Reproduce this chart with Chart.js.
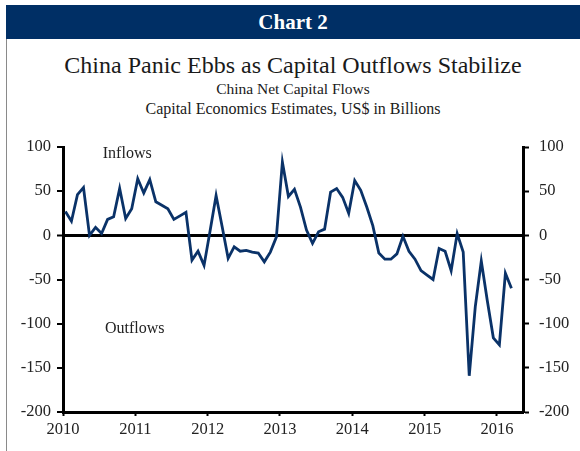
<!DOCTYPE html>
<html>
<head>
<meta charset="utf-8">
<script src="https://cdn.jsdelivr.net/npm/chart.js@4.4.0/dist/chart.umd.min.js"></script>
<style>
  body { margin: 0; background: #fff; font-family: "Liberation Serif", "DejaVu Serif", serif; }
  #wrap { position: relative; width: 580px; height: 451px; overflow: hidden; }
  #band { position: absolute; left: 6px; top: 5px; width: 574px; height: 34px; background: #002f65;
          color: #fff; font-weight: bold; font-size: 21px; text-align: center; line-height: 34px; }
  #edge { position: absolute; left: 6px; top: 39px; width: 1px; height: 412px; background: #8a8a8a; }
  .t { position: absolute; left: 6px; width: 574px; text-align: center; color: #1a1a1a; white-space: nowrap; line-height: 1; }
  #title { top: 53px; font-size: 24px; }
  #sub1 { top: 81px; font-size: 15.5px; }
  #sub2 { top: 101px; font-size: 16px; }
  canvas { position: absolute; left: 0; top: 0; }
</style>
</head>
<body>
<div id="wrap">
  <div id="band">Chart 2</div>
  <div id="edge"></div>
  <div class="t" id="title">China Panic Ebbs as Capital Outflows Stabilize</div>
  <div class="t" id="sub1">China Net Capital Flows</div>
  <div class="t" id="sub2">Capital Economics Estimates, US$ in Billions</div>
  <canvas id="flowsChart" width="580" height="451"></canvas>
</div>
<script>
// monthly net capital flows, Jan 2010 - Mar 2016 (US$ bn)
var startYear = 2010;
var flows = [
  27, 16, 46, 54, 0, 9, 2, 18, 21, 53, 19, 30,
  64, 48, 63, 38, 34, 30, 18, 22, 26, -28, -18, -34,
  5, 45, 10, -26, -13, -18, -17, -19, -20, -30, -19, -2,
  83, 44, 52, 32, 6, -9, 4, 7, 49, 53, 43, 25,
  62, 51, 32, 11, -20, -27, -27, -21, -1, -18, -27, -40,
  -45, -50, -15, -18, -40, 2, -19, -159, -81, -29, -74, -116,
  -124, -43, -60
];
var yearTicks = [2010, 2011, 2012, 2013, 2014, 2015, 2016];
var valueTicks = [100, 50, 0, -50, -100, -150, -200];
var notes = [
  { text: "Inflows", x: 2010.55, y: 87 },
  { text: "Outflows", x: 2010.58, y: -110 }
];

// months as mid-month positions
var points = [];
for (var i = 0; i < flows.length; i++) {
  points.push({ x: startYear + (i + 0.4) / 12, y: flows[i] });
}

var serif = "'Liberation Serif', 'DejaVu Serif', serif";
var tickFont = { family: serif, size: 16.5 };

var notesPlugin = {
  id: "notes",
  afterDatasetsDraw: function (chart) {
    var ctx = chart.ctx;
    ctx.save();
    ctx.fillStyle = "#222";
    ctx.font = "16px " + serif;
    ctx.textBaseline = "alphabetic";
    notes.forEach(function (n) {
      ctx.fillText(n.text, chart.scales.x.getPixelForValue(n.x), chart.scales.y.getPixelForValue(n.y));
    });
    ctx.restore();
  }
};

var ctx = document.getElementById("flowsChart").getContext("2d");
var chart = new Chart(ctx, {
  type: "line",
  data: {
    datasets: [{
      label: "Net capital flows",
      data: points,
      borderColor: "#0a3268",
      borderWidth: 2.8,
      pointRadius: 0,
      tension: 0,
      fill: false
    }]
  },
  options: {
    responsive: false,
    animation: false,
    layout: { padding: { top: 147, bottom: 0, left: 0, right: 0 } },
    plugins: { legend: { display: false }, tooltip: { enabled: false } },
    scales: {
      x: {
        type: "linear",
        min: 2010,
        max: 2016.36,
        afterBuildTicks: function (axis) {
          axis.ticks = yearTicks.map(function (v) { return { value: v }; });
        },
        afterFit: function (axis) { axis.height = 39; },
        ticks: {
          font: tickFont,
          color: "#222",
          padding: 4,
          maxRotation: 0,
          autoSkip: false,
          callback: function (v) { return String(v); }
        },
        grid: { drawOnChartArea: false, tickLength: 4, tickColor: "#000", tickWidth: 2 },
        border: { display: true, color: "#000", width: 3 }
      },
      y: {
        position: "left",
        min: -200,
        max: 100,
        afterBuildTicks: function (axis) {
          axis.ticks = valueTicks.map(function (v) { return { value: v }; });
        },
        afterFit: function (axis) { axis.width = 63; },
        ticks: { font: tickFont, color: "#222", padding: 6 },
        grid: {
          tickLength: 6,
          tickColor: "#000",
          tickWidth: 2,
          color: function (c) { return c.tick && c.tick.value === 0 ? "#000" : "rgba(0,0,0,0)"; },
          lineWidth: function (c) { return c.tick && c.tick.value === 0 ? 3 : 0; }
        },
        border: { display: true, color: "#000", width: 3 }
      },
      y2: {
        position: "right",
        min: -200,
        max: 100,
        afterBuildTicks: function (axis) {
          axis.ticks = valueTicks.map(function (v) { return { value: v }; });
        },
        afterFit: function (axis) { axis.width = 57; },
        ticks: { font: tickFont, color: "#222", padding: 10 },
        grid: { drawOnChartArea: false, tickLength: 6, tickColor: "#000", tickWidth: 2 },
        border: { display: true, color: "#000", width: 3 }
      }
    }
  },
  plugins: [notesPlugin]
});
</script>
</body>
</html>
